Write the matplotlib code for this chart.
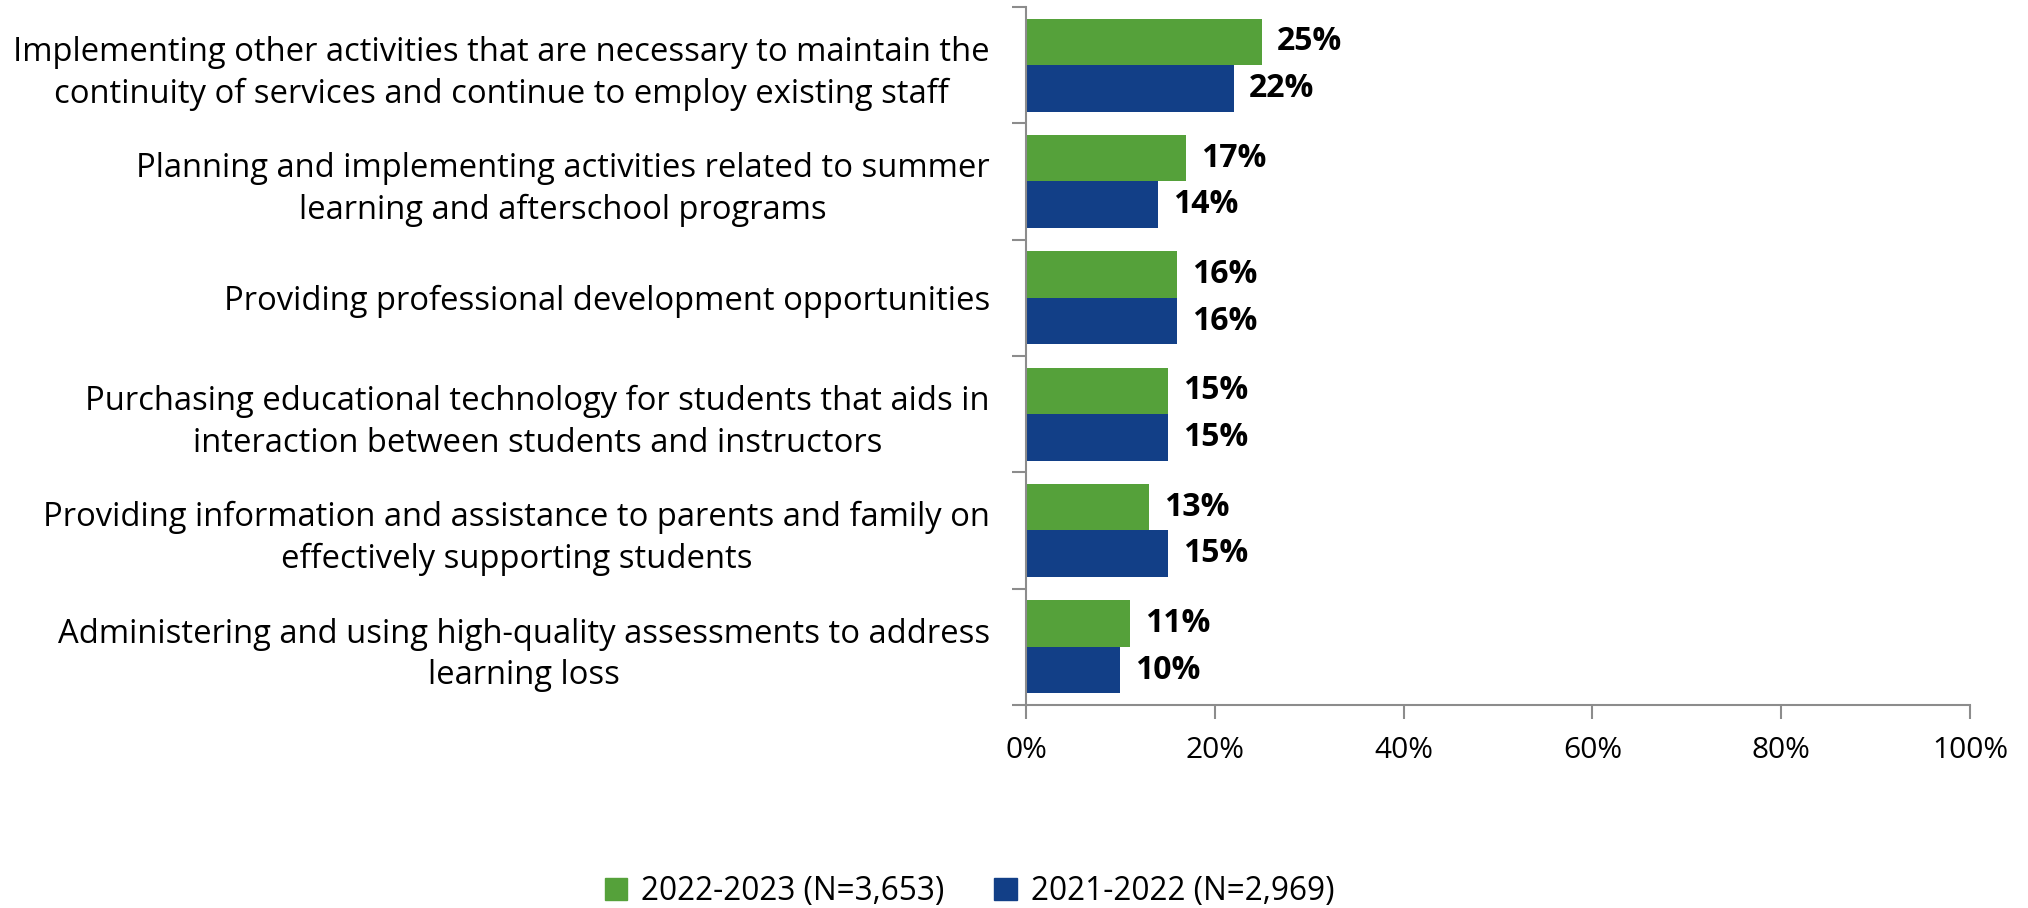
import matplotlib
matplotlib.use("Agg")
import matplotlib.pyplot as plt
import numpy as np
from matplotlib.patches import Patch

categories = [
    "Implementing other activities that are necessary to maintain the\ncontinuity of services and continue to employ existing staff",
    "Planning and implementing activities related to summer\nlearning and afterschool programs",
    "Providing professional development opportunities",
    "Purchasing educational technology for students that aids in\ninteraction between students and instructors",
    "Providing information and assistance to parents and family on\neffectively supporting students",
    "Administering and using high-quality assessments to address\nlearning loss",
]
series_2223 = [25, 17, 16, 15, 13, 11]
series_2122 = [22, 14, 16, 15, 15, 10]
label_2223 = "2022-2023 (N=3,653)"
label_2122 = "2021-2022 (N=2,969)"
xticks = [0, 20, 40, 60, 80, 100]
xticklabels = ["0%", "20%", "40%", "60%", "80%", "100%"]

green = "#55A13A"
blue = "#123F87"
axis_gray = "#8C8C8C"

plt.rcParams['font.family'] = ['Open Sans', 'DejaVu Sans']

fig = plt.figure(figsize=(20.28, 9.08), dpi=100)
ax = fig.add_axes([0.5059, 0.2236, 0.9714 - 0.5059, 0.9923 - 0.2236])

n = len(categories)
y = np.arange(n)
h = 0.4
ax.barh(y - h / 2, series_2223, height=h, color=green, label=label_2223)
ax.barh(y + h / 2, series_2122, height=h, color=blue, label=label_2122)

for yi, v in zip(y, series_2223):
    ax.annotate(f"{v}%", (v, yi - h / 2), xytext=(15, 0), textcoords="offset pixels",
                ha="left", va="center", fontsize=23, fontweight="bold", color="black")
for yi, v in zip(y, series_2122):
    ax.annotate(f"{v}%", (v, yi + h / 2), xytext=(15, 0), textcoords="offset pixels",
                ha="left", va="center", fontsize=23, fontweight="bold", color="black")

ax.set_xlim(0, 100)
ax.set_ylim(n - 0.5, -0.5)
ax.set_xticks(xticks)
ax.set_xticklabels(xticklabels, fontsize=21.5)
ax.set_yticks(y)
ax.set_yticklabels(categories, fontsize=23.6, multialignment="center", linespacing=1.33)
ax.set_yticks(np.arange(n + 1) - 0.5, minor=True)
ax.tick_params(axis="y", which="major", length=0, pad=26)
ax.tick_params(axis="y", which="minor", length=10, width=1.5, color=axis_gray, direction="out")
ax.tick_params(axis="x", which="major", length=10, width=1.5, color=axis_gray, direction="out", pad=12)

for s in ["top", "right"]:
    ax.spines[s].set_visible(False)
for s in ["left", "bottom"]:
    ax.spines[s].set_color(axis_gray)
    ax.spines[s].set_linewidth(1.5)

handles = [Patch(color=green, label=label_2223), Patch(color=blue, label=label_2122)]
fig.legend(handles=handles, loc="center", bbox_to_anchor=(0.478, 0.018), ncol=2, frameon=False,
           fontsize=22.7, handlelength=0.7, handleheight=0.7, columnspacing=1.6, handletextpad=0.45)

fig.savefig("out.png", dpi=100)
